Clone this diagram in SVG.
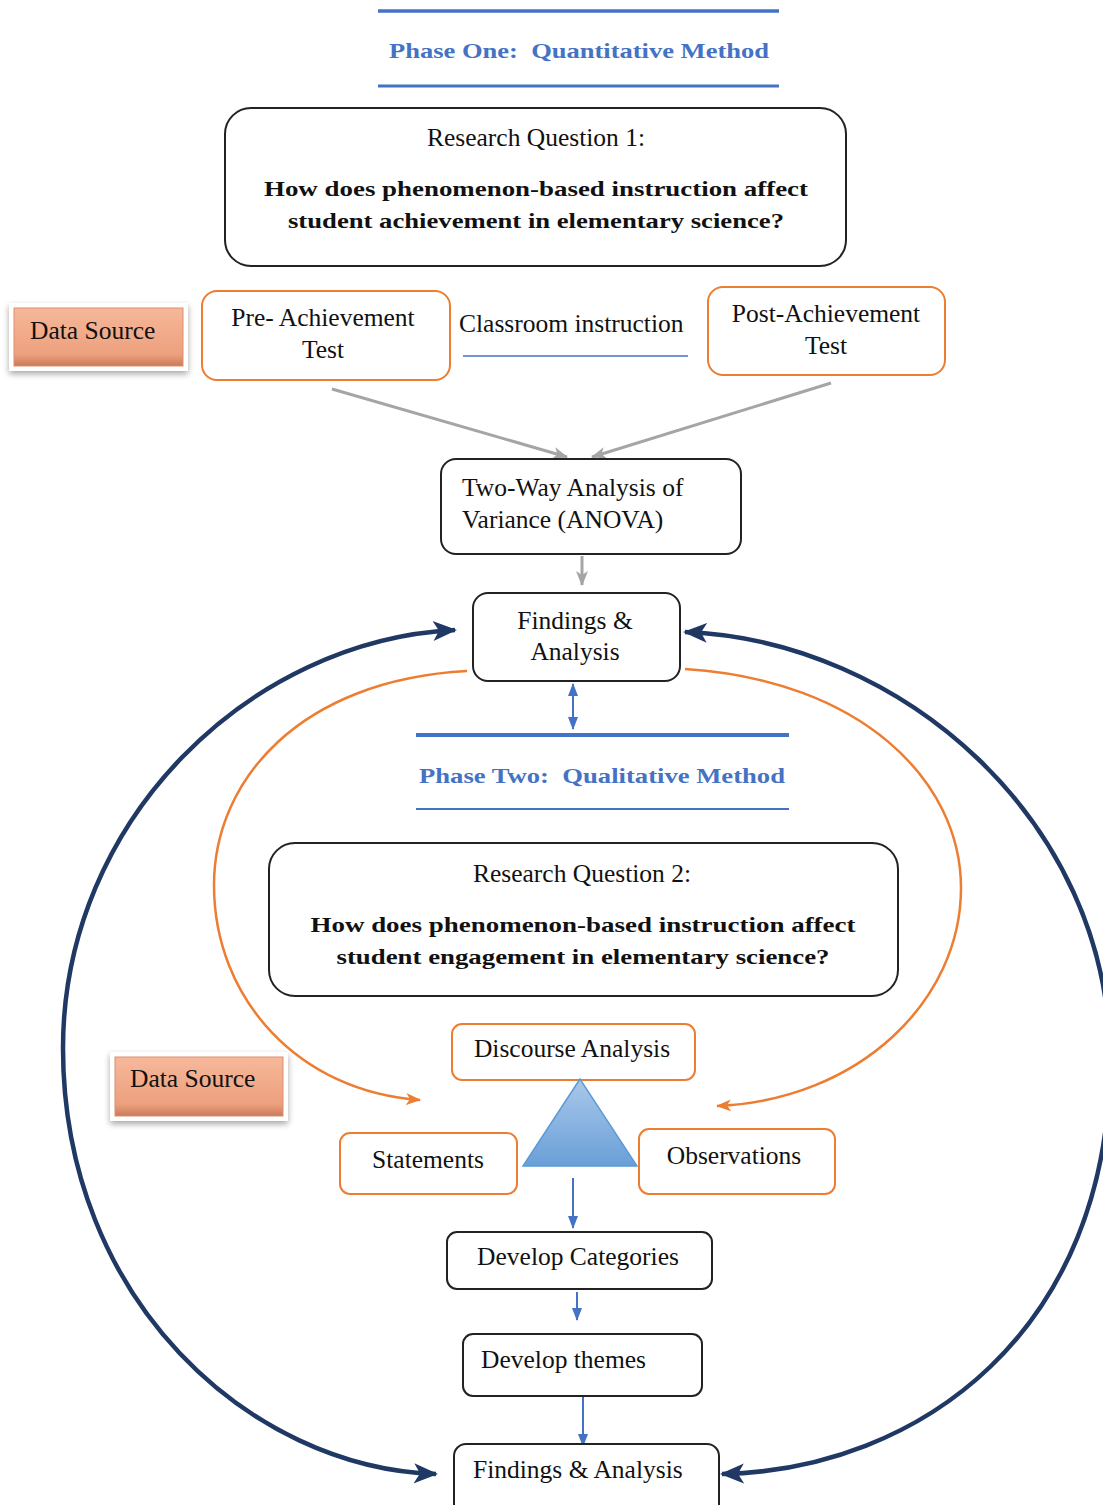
<svg xmlns="http://www.w3.org/2000/svg" width="1103" height="1505" viewBox="0 0 1103 1505" font-family="'Liberation Serif','Times New Roman',serif">
<defs>
<style>
text{font-family:"Liberation Serif","Times New Roman",serif;fill:#111;}
.t{font-size:25.5px;}
.b{font-size:22px;font-weight:bold;}
.h{font-size:22px;font-weight:bold;fill:#4472C4;}
.bk{fill:#fff;stroke:#222;stroke-width:2;}
.or{fill:#fff;stroke:#ED7D31;stroke-width:2;}
.navy{fill:none;stroke:#203864;stroke-width:4.5;}
.org{fill:none;stroke:#ED7D31;stroke-width:2.5;}
.gray{fill:none;stroke:#A5A5A5;stroke-width:3;}
.blue{fill:none;stroke:#4472C4;stroke-width:2;}
</style>
<linearGradient id="ds" x1="0" y1="0" x2="0" y2="1">
<stop offset="0" stop-color="#F6B89A"/>
<stop offset="0.8" stop-color="#EDA07E"/>
<stop offset="1" stop-color="#C97A5A"/>
</linearGradient>
<linearGradient id="tri" x1="0" y1="0" x2="0" y2="1">
<stop offset="0" stop-color="#A9C8EA"/>
<stop offset="1" stop-color="#6A9FD8"/>
</linearGradient>
<marker id="mn" markerUnits="userSpaceOnUse" markerWidth="26" markerHeight="26" refX="22" refY="13" orient="auto">
<path d="M0,3 L24,13 L0,23 L6,13 Z" fill="#203864"/>
</marker>
<marker id="mo" markerUnits="userSpaceOnUse" markerWidth="16" markerHeight="14" refX="14" refY="7" orient="auto">
<path d="M0,1 L15,7 L0,13 L4,7 Z" fill="#ED7D31"/>
</marker>
<marker id="mg" markerUnits="userSpaceOnUse" markerWidth="16" markerHeight="14" refX="14" refY="7" orient="auto">
<path d="M0,1 L15,7 L0,13 L4,7 Z" fill="#A5A5A5"/>
</marker>
<marker id="mb" markerUnits="userSpaceOnUse" markerWidth="14" markerHeight="12" refX="12" refY="6" orient="auto-start-reverse">
<path d="M0,1 L13,6 L0,11 Z" fill="#4472C4"/>
</marker>
<filter id="sh" x="-20%" y="-30%" width="140%" height="160%">
<feGaussianBlur in="SourceAlpha" stdDeviation="3"/>
<feOffset dx="0" dy="3"/>
<feComponentTransfer><feFuncA type="linear" slope="0.35"/></feComponentTransfer>
<feMerge><feMergeNode/><feMergeNode in="SourceGraphic"/></feMerge>
</filter>
</defs>
<rect width="1103" height="1505" fill="#fff"/>

<g id="connectors">
<path class="navy" d="M63,1048 C63,820 250,640 455,630" marker-end="url(#mn)"/>
<path class="navy" d="M63,1048 C63,1300 250,1468 436,1474" marker-end="url(#mn)"/>
<path class="navy" d="M1110,1060 C1110,820 900,640 685,632" marker-end="url(#mn)"/>
<path class="navy" d="M1110,1060 C1110,1330 920,1470 722,1474" marker-end="url(#mn)"/>
<path class="org" d="M467,671 C300,680 214,780 214,885 C214,1000 300,1092 420,1100" marker-end="url(#mo)"/>
<path class="org" d="M685,669 C860,680 961,780 961,888 C961,1000 860,1100 717,1106" marker-end="url(#mo)"/>
<path class="gray" d="M332,389 L567,457" marker-end="url(#mg)"/>
<path class="gray" d="M831,383 L592,457" marker-end="url(#mg)"/>
<path class="gray" d="M582,556 L582,585" marker-end="url(#mg)"/>
<path class="blue" stroke-width="2.5" d="M573,684 L573,729" marker-start="url(#mb)" marker-end="url(#mb)"/>
<path class="blue" stroke-width="1.5" d="M573,1178 L573,1228" marker-end="url(#mb)"/>
<path class="blue" stroke-width="1.5" d="M577,1292 L577,1320" marker-end="url(#mb)"/>
<path class="blue" stroke-width="1.5" d="M583,1397 L583,1446" marker-end="url(#mb)"/>
</g>

<g id="phase1">
<line x1="378" y1="11" x2="779" y2="11" stroke="#4472C4" stroke-width="3.5"/>
<text class="h" x="579" y="58" text-anchor="middle" textLength="380" lengthAdjust="spacingAndGlyphs" xml:space="preserve">Phase One:  Quantitative Method</text>
<line x1="378" y1="86" x2="779" y2="86" stroke="#4472C4" stroke-width="3"/>
</g>

<g id="rq1">
<rect class="bk" x="225" y="108" width="621" height="158" rx="26"/>
<text class="t" x="536" y="146" text-anchor="middle">Research Question 1:</text>
<text class="b" x="536" y="196" text-anchor="middle" textLength="544" lengthAdjust="spacingAndGlyphs">How does phenomenon-based instruction affect</text>
<text class="b" x="536" y="228" text-anchor="middle" textLength="496" lengthAdjust="spacingAndGlyphs">student achievement in elementary science?</text>
</g>

<g id="datasource1">
<rect x="9" y="303" width="179" height="68" fill="#fff" filter="url(#sh)"/>
<rect x="14" y="308" width="169" height="58" fill="url(#ds)" stroke="#D99070" stroke-width="1"/>
<text class="t" x="30" y="339">Data Source</text>
</g>

<g id="pre">
<rect class="or" x="202" y="291" width="248" height="89" rx="15"/>
<text class="t" x="323" y="326" text-anchor="middle">Pre- Achievement</text>
<text class="t" x="323" y="358" text-anchor="middle">Test</text>
</g>

<g id="classroom">
<text class="t" x="459" y="332">Classroom instruction</text>
<line x1="463" y1="356" x2="688" y2="356" stroke="#4472C4" stroke-width="1.5"/>
</g>

<g id="post">
<rect class="or" x="708" y="287" width="237" height="88" rx="15"/>
<text class="t" x="826" y="322" text-anchor="middle">Post-Achievement</text>
<text class="t" x="826" y="354" text-anchor="middle">Test</text>
</g>

<g id="anova">
<rect class="bk" x="441" y="459" width="300" height="95" rx="15"/>
<text class="t" x="462" y="496">Two-Way Analysis of</text>
<text class="t" x="462" y="528">Variance (ANOVA)</text>
</g>

<g id="findings1">
<rect class="bk" x="473" y="593" width="207" height="88" rx="15"/>
<text class="t" x="575" y="629" text-anchor="middle">Findings &amp;</text>
<text class="t" x="575" y="660" text-anchor="middle">Analysis</text>
</g>

<g id="phase2">
<line x1="416" y1="735" x2="789" y2="735" stroke="#4472C4" stroke-width="4"/>
<text class="h" x="602" y="783" text-anchor="middle" textLength="366" lengthAdjust="spacingAndGlyphs" xml:space="preserve">Phase Two:  Qualitative Method</text>
<line x1="416" y1="809" x2="789" y2="809" stroke="#4472C4" stroke-width="2"/>
</g>

<g id="rq2">
<rect class="bk" x="269" y="843" width="629" height="153" rx="26"/>
<text class="t" x="582" y="882" text-anchor="middle">Research Question 2:</text>
<text class="b" x="583" y="932" text-anchor="middle" textLength="545" lengthAdjust="spacingAndGlyphs">How does phenomenon-based instruction affect</text>
<text class="b" x="583" y="964" text-anchor="middle" textLength="493" lengthAdjust="spacingAndGlyphs">student engagement in elementary science?</text>
</g>

<g id="datasource2">
<rect x="110" y="1052" width="178" height="69" fill="#fff" filter="url(#sh)"/>
<rect x="115" y="1057" width="168" height="59" fill="url(#ds)" stroke="#D99070" stroke-width="1"/>
<text class="t" x="130" y="1087">Data Source</text>
</g>

<g id="discourse">
<rect class="or" x="452" y="1024" width="243" height="56" rx="10"/>
<text class="t" x="572" y="1057" text-anchor="middle">Discourse Analysis</text>
</g>

<g id="triangle">
<polygon points="580,1079 523,1166 637,1166" fill="url(#tri)" stroke="#5B9BD5" stroke-width="1.5"/>
</g>

<g id="statements">
<rect class="or" x="340" y="1133" width="177" height="61" rx="10"/>
<text class="t" x="428" y="1168" text-anchor="middle">Statements</text>
</g>

<g id="observations">
<rect class="or" x="639" y="1129" width="196" height="65" rx="10"/>
<text class="t" x="734" y="1164" text-anchor="middle">Observations</text>
</g>

<g id="categories">
<rect class="bk" x="447" y="1232" width="265" height="57" rx="10"/>
<text class="t" x="578" y="1265" text-anchor="middle">Develop Categories</text>
</g>

<g id="themes">
<rect class="bk" x="463" y="1334" width="239" height="62" rx="10"/>
<text class="t" x="481" y="1368">Develop themes</text>
</g>

<g id="findings2">
<rect class="bk" x="454" y="1444" width="265" height="80" rx="12"/>
<text class="t" x="473" y="1478">Findings &amp; Analysis</text>
</g>
</svg>
